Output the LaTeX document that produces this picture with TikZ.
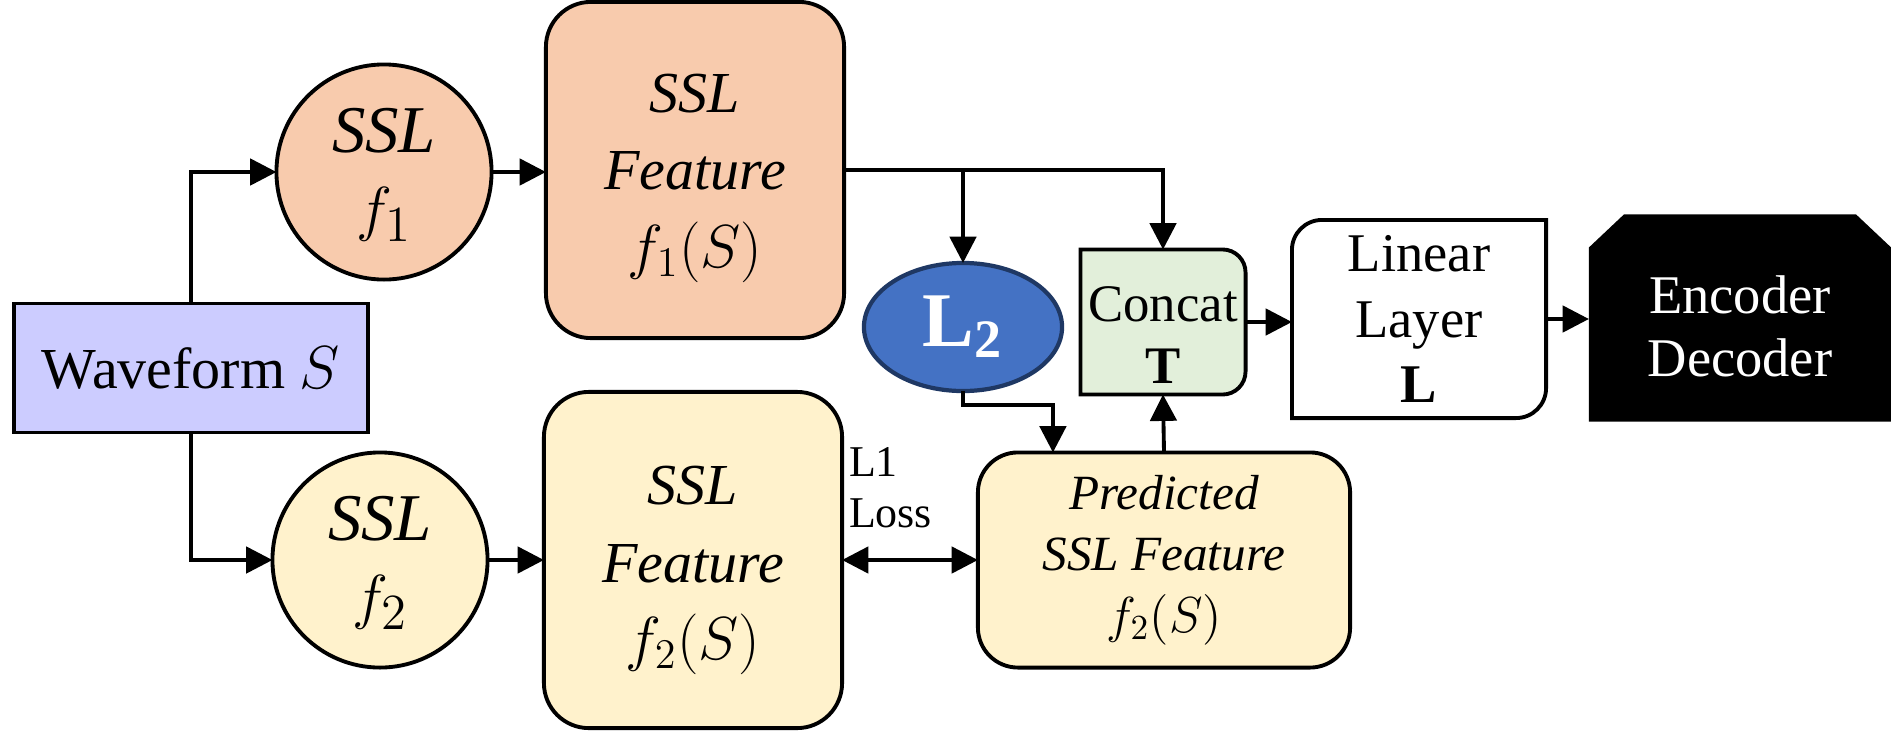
\documentclass[tikz,border=0pt]{standalone}
\usepackage{fontspec}
\setmainfont{Liberation Serif}
\usepackage{amsmath}
\usepackage{xcolor}
\usepackage{tikz}
\usetikzlibrary{arrows.meta,shapes.geometric}

\definecolor{wavefill}{HTML}{CCCCFF}
\definecolor{peach}{HTML}{F8CBAD}
\definecolor{cream}{HTML}{FFF2CC}
\definecolor{lossblue}{HTML}{4472C4}
\definecolor{lossedge}{HTML}{1F3864}
\definecolor{mint}{HTML}{E2EFDA}

\begin{document}
\begin{tikzpicture}[x=0.01cm,y=0.01cm,
  arr/.style={line width=1.1pt,-{Triangle[length=7.5pt,width=7.5pt]}},
  dblarr/.style={line width=1.1pt,{Triangle[length=7.5pt,width=7.5pt]}-{Triangle[length=7.5pt,width=7.5pt]}},
  circ/.style={draw,line width=1.1pt,circle,minimum size=2.15cm,inner sep=0pt,outer sep=0pt,align=center,font=\fontsize{19}{22}\selectfont\itshape},
  feat/.style={draw,line width=1.1pt,rounded corners=0.45cm,minimum width=2.98cm,minimum height=3.36cm,inner sep=0pt,outer sep=0pt,align=center,font=\fontsize{16.5}{22}\selectfont\itshape},
  geom/.style={inner sep=0pt,outer sep=0pt}]
\useasboundingbox (0,0) rectangle (1891,-730);

% input and the two ssl models
\node[draw,line width=1.1pt,fill=wavefill,minimum width=3.54cm,minimum height=1.29cm,geom,font=\fontsize{16.5}{20}\selectfont] (wave) at (191,-368) {Waveform $S$};
\node[circ,fill=peach] (sslA) at (384,-172) {\rule{0pt}{14pt}SSL\\$f_1$};
\node[circ,fill=cream] (sslB) at (380,-560) {\rule{0pt}{14pt}SSL\\$f_2$};

% feature boxes
\node[feat,fill=peach] (featA) at (695,-170) {\rule{0pt}{15.5pt}SSL\\Feature\\$f_1(S)$};
\node[feat,fill=cream] (featB) at (693,-560) {\rule{0pt}{17pt}SSL\\Feature\\$f_2(S)$};
\node[feat,fill=cream,minimum width=3.72cm,minimum height=2.15cm,rounded corners=0.4cm,font=\fontsize{14}{17.5}\selectfont\itshape] (pred) at (1164,-560) {Predicted\\SSL Feature\\$f_2(S)$};

\node[ellipse,draw=lossedge,fill=lossblue,line width=1.2pt,minimum width=1.98cm,minimum height=1.28cm,geom,text=white,font=\fontsize{22}{24}\selectfont\bfseries] (l2) at (963,-327) {L\textsubscript{2}};

% concat box, rounded on the right only
\node[geom,minimum width=1.65cm,minimum height=1.45cm] (concat) at (1163,-322) {};
\filldraw[line width=1.1pt,fill=mint] (concat.south west) -- (concat.north west) -- ([xshift=-0.23cm]concat.north east) arc[start angle=90,end angle=0,radius=0.23cm] -- ([yshift=0.23cm]concat.south east) arc[start angle=0,end angle=-90,radius=0.23cm] -- cycle;
\node[geom,align=center,font=\fontsize{15}{17.5}\selectfont] (concattxt) at ([yshift=-0.13cm]concat.center) {Concat\\\textbf{T}};

% linear layer, two rounded corners
\node[geom,minimum width=2.54cm,minimum height=1.98cm,align=center,font=\fontsize{15.5}{18.5}\selectfont] (linear) at (1419,-319) {Linear\\Layer\\\textbf{L}};
\draw[line width=1.1pt] (linear.north east) -- ([xshift=0.3cm]linear.north west) arc[start angle=90,end angle=180,radius=0.3cm] -- (linear.south west) -- ([xshift=-0.3cm]linear.south east) arc[start angle=-90,end angle=0,radius=0.3cm] -- cycle;

% encoder decoder block, top corners cut
\node[geom,minimum width=3.02cm,minimum height=2.07cm] (encdec) at (1740,-318) {};
\fill[black] (encdec.south west) -- ([yshift=-0.33cm]encdec.north west) -- ([xshift=0.35cm]encdec.north west) -- ([xshift=-0.35cm]encdec.north east) -- ([yshift=-0.33cm]encdec.north east) -- (encdec.south east) -- cycle;
\node[geom,text=white,align=center,font=\fontsize{15.5}{18}\selectfont] (encdectxt) at ([yshift=-0.08cm]encdec.center) {Encoder\\Decoder};

\node[geom,anchor=west,align=left,font=\fontsize{12.5}{14.5}\selectfont] (lossnote) at (849,-488) {L1\\Loss};

% connectors
\draw[arr] (wave.north) |- (sslA.west);
\draw[arr] (wave.south) |- (sslB.west);
\draw[arr] (sslA.east) -- (sslA.east -| featA.west);
\draw[arr] (sslB.east) -- (sslB.east -| featB.west);
\draw[arr] (featA.east) -| (concat.north);
\draw[arr] (featA.east -| l2.north) -- (l2.north);
\draw[arr] (l2.south) -- ++(0,-14) -| ([xshift=-1.11cm]pred.north);
\draw[arr] (pred.north) -- (concat.south);
\draw[arr] (concat.east) -- (concat.east -| linear.west);
\draw[arr] (linear.east) -- (linear.east -| encdec.west);
\draw[dblarr] (featB.east) -- (featB.east -| pred.west);
\end{tikzpicture}
\end{document}
